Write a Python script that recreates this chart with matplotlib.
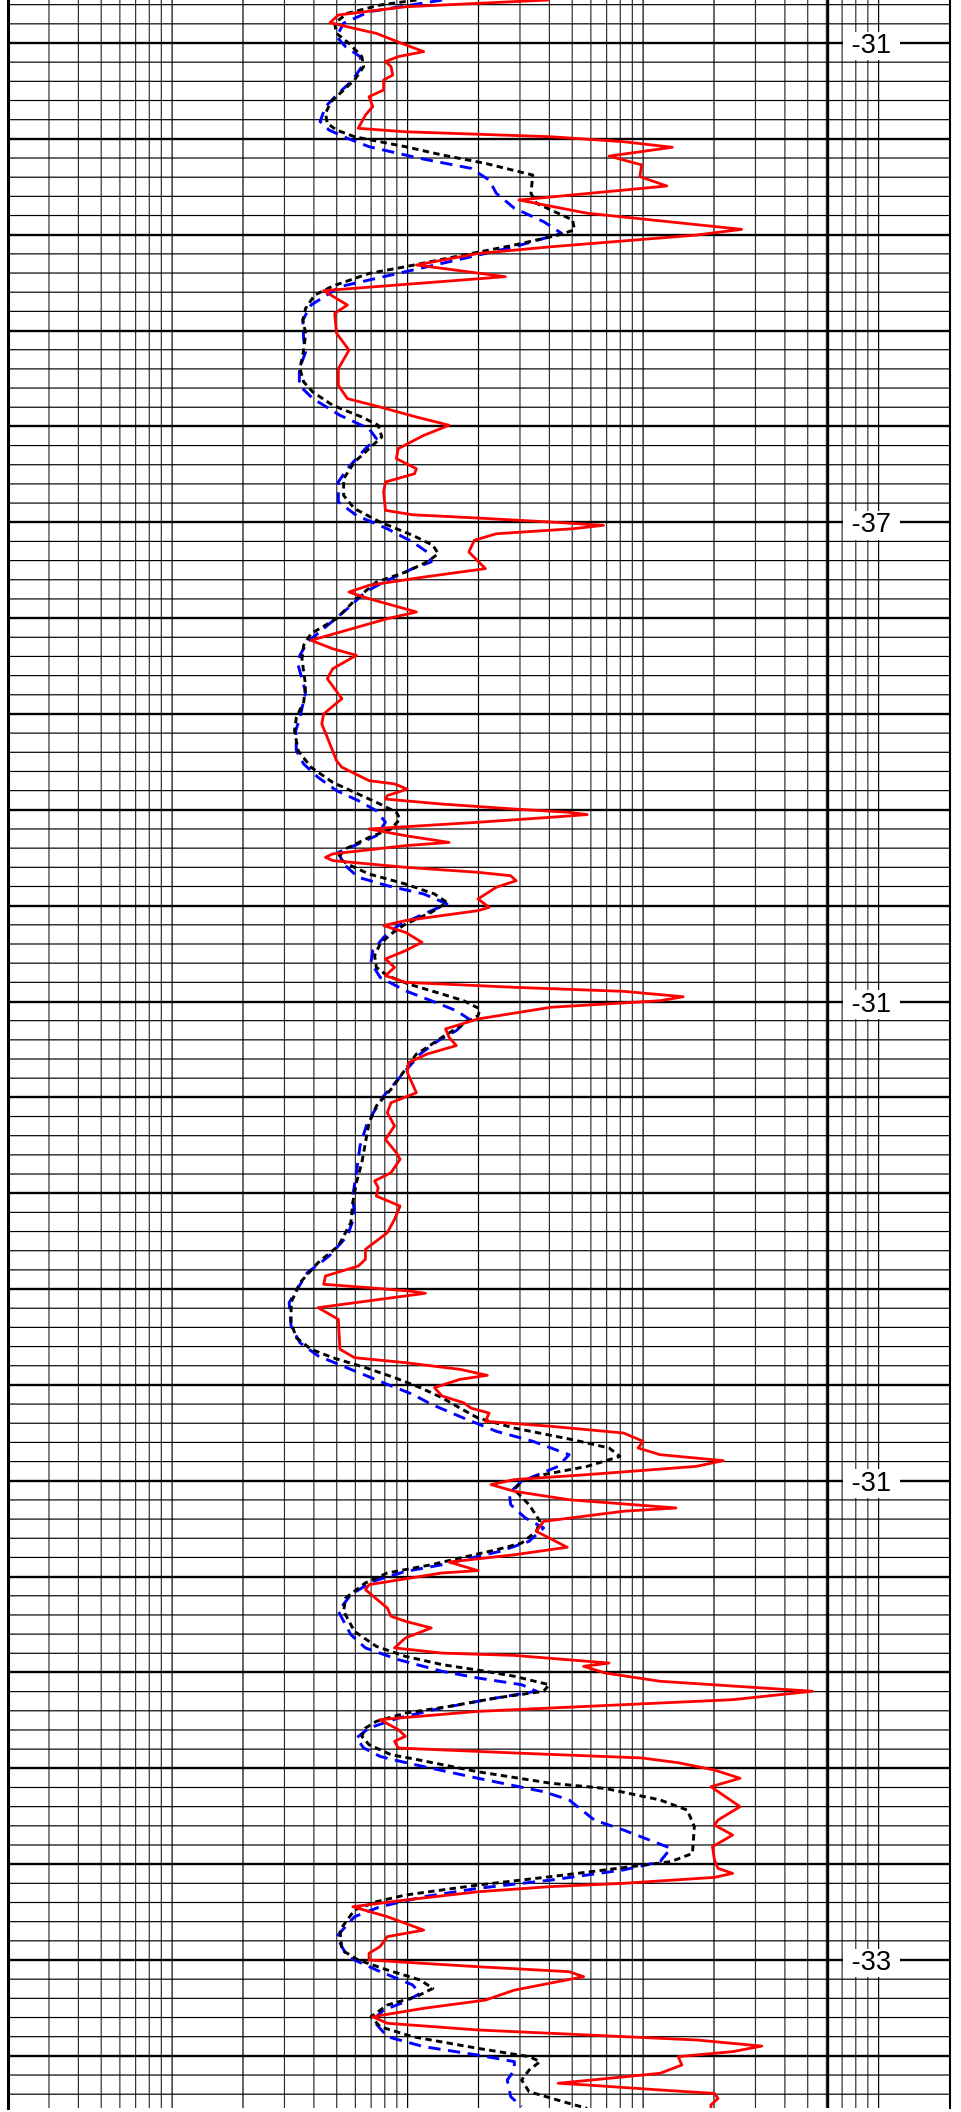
import matplotlib.pyplot as plt
from matplotlib.ticker import NullLocator

plt.rcParams['font.family'] = ['Liberation Sans', 'DejaVu Sans']

# depth (m below the first marker) and resistivity (ohm.m) picks for each curve
red_depth = [
    -2.24, -1.89, -1.46, -1.06, -0.76, -0.50, 0.02, 0.45, 0.71, 0.97, 1.23, 1.67, 1.93, 2.45, 2.80, 3.32,
    3.76, 4.45, 4.63, 4.89, 5.15, 5.44, 5.90, 6.36, 6.97, 7.46, 8.19, 8.88, 9.72, 10.02, 10.63, 10.98,
    11.58, 12.19, 12.92, 13.67, 14.10, 15.14, 16.02,
    16.99, 17.86, 18.55, 18.99, 19.51, 19.94, 20.47, 21.16, 21.68, 22.21, 22.47, 22.90, 23.42, 24.38,
    24.61, 24.78, 24.99, 25.16, 25.34, 25.60, 25.94, 26.55, 27.42, 27.86, 28.29, 28.64, 28.99, 29.68,
    30.03, 30.73, 31.16, 31.60, 31.94, 32.64, 33.16, 34.20,
    35.00, 35.52, 36.22, 37.44, 37.78, 38.48, 38.65, 38.92, 39.26, 39.44, 39.70, 39.96, 40.13, 40.25,
    40.39, 40.65, 41.00, 41.35, 41.70, 41.87, 42.30, 42.48, 42.65, 43.00, 43.26, 43.44, 43.70, 44.04,
    44.65, 45.09, 45.26, 45.78, 46.04, 46.39, 46.91, 47.35, 47.78, 48.22, 48.65, 49.00, 49.26, 49.47,
    49.75, 49.96, 50.30, 50.91, 51.43, 51.87, 52.30, 52.74,
    53.19, 53.71, 54.76, 55.28, 55.80, 56.49, 57.19, 57.89, 58.23, 58.93, 59.36, 59.71, 60.15, 60.67,
    61.36, 62.06, 62.93, 63.45, 63.80, 64.32, 64.75, 64.93, 65.10, 65.22, 65.36, 65.97, 66.58, 68.14,
    68.58, 68.84, 69.19, 69.50, 69.71, 70.14, 70.58, 70.93,
    71.21, 71.47, 71.90, 72.16, 72.51, 72.94, 73.29, 73.64, 73.95, 74.25, 74.68, 74.94, 75.20, 75.55,
    75.99, 76.21, 76.42, 76.59, 77.12, 77.64, 78.47, 78.86, 79.24, 79.69, 79.81, 80.42, 80.68, 81.64,
    82.07, 82.33, 82.68, 83.20, 83.72, 83.99, 84.11, 84.51, 84.68, 85.03, 85.46, 85.98, 86.42, 86.77,
    87.03, 87.46, 87.98, 88.33, 88.59, 88.94, 89.20, 89.46,
    89.71, 90.09, 90.52, 90.96, 92.00, 92.70, 92.96, 93.48, 94.09, 94.78, 95.22, 95.48, 95.69, 96.00,
    96.17, 96.44, 96.87, 97.22, 97.74, 98.44, 98.78, 99.30, 99.65, 100.00, 100.35, 100.61, 100.87,
    101.57, 102.09, 102.52, 102.96, 103.30, 103.65, 103.91, 104.17, 104.49, 104.78, 105.04, 105.48,
    105.91, 106.43, 106.52, 106.78, 106.96, 107.22, 107.56, 107.82,
]
red_res = [
    39.2, 9.79, 5.08, 4.68, 5.95, 7.37, 9.45, 11.7, 9.12, 8.05, 8.50, 8.65, 7.91, 7.91, 6.86, 7.11,
    6.62, 6.17, 9.79, 40.6, 82.6, 133, 71.7, 98.6, 96.9, 126, 29.7, 57.9, 262, 168, 40.6, 19.9,
    10.9, 26.0, 4.40, 5.55, 4.90, 4.99, 5.64,
    5.08, 5.08, 5.55, 7.64, 10.9, 15.0, 11.7, 9.12, 8.96, 10.9, 10.7, 8.05, 7.91, 8.05,
    10.5, 19.9, 40.6, 67.9, 50.2, 23.8, 19.2, 18.2, 21.4, 11.7, 6.86, 5.64, 6.86, 10.9,
    8.20, 5.16, 3.89, 4.81, 6.06, 4.81, 4.56, 5.26,
    4.40, 4.32, 4.56, 4.99, 5.26, 6.86, 8.80, 9.97, 8.20, 8.05, 14.0, 28.4, 48.5, 57.9,
    40.6, 19.9, 6.86, 9.79, 15.0, 9.79, 4.81, 4.48, 4.81, 9.79, 19.9, 27.4, 28.9, 23.8,
    19.9, 22.2, 19.9, 9.79, 7.91, 9.79, 11.5, 9.79, 8.05, 8.80, 8.05, 9.79, 28.4, 82.6,
    148, 118, 40.6, 19.9, 14.5, 15.0, 16.1, 12.1,
    10.1, 9.97, 10.9, 8.50, 8.20, 8.80, 8.05, 8.96, 9.29, 8.50, 7.24, 7.50, 7.37, 9.29,
    8.80, 8.20, 6.62, 6.62, 6.17, 4.48, 4.40, 6.86, 10.1, 11.9, 9.79, 4.17, 5.08, 5.16,
    5.95, 9.79, 16.7, 21.8, 16.7, 13.0, 14.0, 17.3,
    18.6, 22.2, 21.4, 40.6, 82.6, 100, 95.2, 118, 219, 168, 57.9, 28.4, 22.6, 28.4,
    48.5, 82.6, 138, 82.6, 37.8, 35.2, 47.6, 28.4, 15.0, 19.9, 14.0, 6.86, 6.62, 8.20,
    8.50, 9.79, 12.6, 9.79, 8.80, 14.0, 28.4, 71.7, 55.9, 69.1, 118, 524, 240, 57.9,
    19.9, 7.64, 9.12, 9.79, 8.80, 9.12, 28.4, 98.6,
    141, 201, 258, 194, 258, 208, 201, 240, 197, 201, 208, 240, 201, 82.6,
    40.6, 19.9, 9.79, 5.85, 8.20, 11.7, 8.20, 7.64, 6.86, 6.86, 19.9, 48.5, 55.9,
    28.4, 21.4, 11.7, 7.11, 8.20, 19.9, 57.9, 168, 319, 240, 141, 146,
    118, 43.6, 57.9, 118, 201, 208, 194, 194,
]

black_depth = [
    -2.24, -1.98, -1.55, -1.03, -0.50, 0.02, 0.71, 1.23, 1.93, 2.54, 3.06, 3.67, 4.19, 4.54, 4.89,
    5.41, 5.84, 6.28, 6.89, 7.84, 8.36, 9.23, 9.75, 10.02, 10.54, 11.06, 11.67, 12.02, 12.68, 13.15,
    13.84, 14.45, 15.14, 16.02,
    16.99, 17.68, 18.21, 18.90, 19.51, 19.94, 20.55, 21.16, 21.86, 22.73, 23.60, 24.29, 24.99, 25.68,
    26.20, 26.64, 27.07, 27.60, 28.12, 28.99, 30.03, 30.81, 31.42, 32.12, 32.81, 33.51, 34.38,
    35.18, 35.87, 36.92, 37.78, 38.57, 39.18, 39.70, 40.13, 40.48, 41.00, 41.44, 42.04, 42.48, 42.83,
    43.35, 43.87, 44.39, 44.83, 45.35, 45.96, 46.48, 47.00, 47.61, 48.22, 48.65, 49.09, 49.61, 49.96,
    50.39, 50.74, 51.17, 51.87, 52.39, 52.74,
    53.54, 54.58, 55.45, 56.32, 57.36, 58.41, 59.45, 60.49, 61.54, 62.75, 63.62, 64.67, 65.71, 66.75,
    67.54, 68.14, 68.58, 69.10, 69.62, 70.14, 70.67, 71.10,
    71.73, 72.25, 72.86, 73.29, 73.73, 74.25, 74.68, 75.03, 75.46, 76.25, 77.12, 77.64, 78.25, 78.60,
    79.03, 79.38, 79.81, 80.33, 81.12, 81.81, 82.86, 83.64, 84.16, 84.59, 84.94, 85.20, 85.64, 85.98,
    86.33, 86.77, 87.12, 87.55, 87.90, 88.33, 88.77, 89.29, 89.50,
    90.18, 90.78, 91.05, 91.65, 92.18, 93.04, 94.44, 94.87, 95.30, 95.65, 96.09, 96.61, 96.96, 97.39,
    98.44, 99.48, 100.00, 100.52, 101.04, 101.48, 101.91, 102.35, 102.96, 103.48, 104.00, 104.61,
    105.04, 105.30, 105.74, 106.26, 106.87, 107.48, 107.74,
]
black_res = [
    10.9, 7.64, 5.55, 4.90, 4.99, 5.64, 6.39, 6.51, 5.95, 5.26, 4.73, 4.48, 4.56, 4.99, 5.95,
    9.79, 14.0, 21.4, 34.0, 33.4, 35.2, 50.2, 51.1, 43.6, 28.4, 17.3, 9.79, 6.86, 4.81, 4.03,
    3.69, 3.59, 3.69, 3.62,
    3.49, 3.62, 3.96, 4.81, 6.39, 7.50, 7.77, 6.86, 5.95, 5.35, 5.35, 5.95, 7.64, 10.5,
    12.8, 13.5, 12.1, 9.79, 7.37, 6.06, 4.99, 3.89, 3.62, 3.56, 3.62, 3.69, 3.62,
    3.37, 3.31, 3.43, 3.89, 4.81, 6.17, 7.64, 8.96, 9.29, 8.50, 6.86, 5.45, 5.08, 5.55,
    6.86, 9.79, 13.0, 14.7, 12.6, 9.79, 8.50, 7.64, 7.24, 7.37, 8.20, 10.1, 14.0, 17.3,
    20.3, 19.9, 17.3, 14.0, 12.1, 10.9,
    9.79, 8.50, 7.37, 6.86, 6.62, 6.39, 6.06, 5.85, 5.74, 5.08, 4.17, 3.49, 3.20, 3.20,
    3.37, 3.89, 4.81, 6.62, 8.80, 11.3, 14.0, 16.1,
    19.9, 28.4, 50.2, 71.7, 79.7, 57.9, 37.8, 30.5, 28.4, 32.8, 36.5, 35.2, 30.5, 23.8,
    16.7, 12.6, 8.20, 6.62, 5.45, 5.35, 5.95, 7.37, 9.79, 14.0, 21.4, 28.4, 39.9, 37.8,
    23.8, 15.0, 9.79, 7.37, 6.62, 6.39, 6.86, 8.50, 10.5,
    19.9, 40.6, 69.1, 118, 154, 165, 162, 131, 69.1, 40.6, 19.9, 9.79, 7.37, 5.95,
    5.16, 5.26, 6.17, 8.20, 11.3, 12.8, 10.9, 8.20, 6.99, 7.64, 10.5, 19.9,
    32.8, 36.5, 32.8, 30.5, 32.8, 48.5, 57.9,
]

blue_depth = [
    -2.24, -1.63, -1.03, -0.33, 0.19, 0.71, 1.23, 1.93, 2.63, 3.32, 4.10, 4.54, 4.97, 5.41, 6.02,
    6.54, 7.15, 7.84, 8.62, 9.32, 9.93, 10.63, 11.15, 11.93, 12.71, 13.67, 14.45, 15.49,
    16.12, 16.99, 17.86, 18.55, 19.42, 20.12, 20.64, 21.16, 22.20, 22.90, 23.94, 24.64, 25.34, 26.03,
    26.55, 27.07, 27.42, 28.12, 28.64, 29.51, 30.55, 31.25, 31.94, 32.46, 33.86,
    35.18, 35.87, 36.92, 37.61, 38.31, 39.00, 39.52, 40.05, 40.65, 41.35, 41.78, 42.22, 42.83, 43.52,
    43.96, 44.39, 44.91, 45.52, 46.04, 46.65, 47.35, 47.96, 48.74, 49.44, 49.96, 50.48, 50.91, 51.52,
    52.04, 52.74,
    54.06, 54.93, 56.32, 57.54, 58.93, 60.15, 61.19, 62.23, 63.28, 64.15, 65.71, 66.93, 67.80, 68.49,
    69.19, 69.97, 70.49, 71.01,
    71.73, 72.42, 72.94, 73.64, 74.25, 75.03, 75.64, 76.25, 76.94, 77.46, 78.16, 78.68, 79.38, 79.73,
    80.25, 80.94, 81.81, 83.03, 83.72, 84.33, 84.94, 85.29, 85.64, 85.98, 86.33, 86.85, 87.38, 87.90,
    88.42, 88.94, 89.38,
    89.57, 89.91, 90.52, 91.22, 91.65, 92.70, 93.22, 94.17, 94.87, 95.30, 95.83, 96.26, 96.70, 97.22,
    97.74, 98.78, 99.83, 100.52, 101.30, 101.74, 102.17, 102.61, 103.13, 104.00, 104.52, 104.96,
    105.30, 105.74, 106.26, 107.13, 107.65,
]
blue_res = [
    14.0, 6.86, 5.35, 4.99, 5.45, 6.28, 6.39, 5.85, 5.08, 4.48, 4.25, 4.64, 5.55, 6.86, 11.3,
    18.6, 22.2, 23.8, 28.4, 37.8, 45.1, 28.4, 18.6, 9.79, 5.16, 3.89, 3.59, 3.62,
    3.69, 3.47, 3.47, 3.96, 5.16, 6.86, 7.37, 6.62, 5.55, 5.08, 5.08, 6.06, 8.20, 10.5,
    12.1, 12.6, 10.5, 7.91, 6.62, 5.55, 4.40, 3.75, 3.49, 3.43, 3.69,
    3.49, 3.35, 3.37, 3.62, 4.17, 4.99, 6.17, 7.37, 8.05, 7.37, 6.17, 5.08, 5.35, 6.17,
    8.20, 11.7, 14.7, 11.3, 9.12, 7.91, 7.11, 6.99, 7.64, 9.79, 12.6, 16.1, 18.2, 16.1,
    13.5, 11.3,
    9.12, 7.91, 6.74, 6.28, 6.06, 5.85, 5.95, 5.55, 4.64, 3.75, 3.14, 3.20, 3.49, 4.17,
    5.74, 8.20, 10.5, 12.6,
    17.3, 23.8, 34.0, 48.5, 43.6, 30.5, 27.0, 27.4, 31.6, 37.8, 32.8, 24.7, 14.0, 9.79,
    7.11, 5.74, 5.08, 5.74, 6.62, 9.12, 14.0, 19.9, 30.5, 35.2, 23.8, 14.0, 9.12, 6.86,
    6.06, 6.51, 7.64,
    8.80, 11.7, 19.9, 37.8, 48.5, 62.1, 82.6, 131, 118, 82.6, 40.6, 19.9, 11.7, 7.64,
    5.95, 4.99, 5.55, 7.37, 10.5, 11.3, 9.79, 7.91, 7.11, 8.20, 11.7, 19.9,
    28.4, 28.4, 26.5, 27.4, 30.5,
]

marker_depths = [0, 25, 50, 75, 100]
marker_labels = ['-31', '-37', '-31', '-31', '-33']
edge_res = 610  # heavy line splitting off the depth column

fig = plt.figure(figsize=(9.61, 21.12), dpi=100)
ax = fig.add_axes([7.5 / 961, 4 / 2112, 942 / 961, 2108 / 2112])
ax.set_xscale('log')
ax.set_xlim(0.2, 2000)
ax.set_ylim(107.72, -2.243)

# log grid, 0.2 - 2000
for dec in [0.1, 1, 10, 100, 1000]:
    for m in range(1, 10):
        v = m * dec
        if 0.2 < v < 2000:
            ax.axvline(v, color='black' if m in (1, 2) else '#2e2e2e', lw=0.85, snap=False, zorder=1)

# depth grid: 1 m minor, 5 m major
for d in range(-2, 108):
    if d % 5 == 0:
        ax.axhline(d, color='black', lw=1.7, zorder=1.5)
    else:
        ax.axhline(d, color='black', lw=0.85, snap=False, zorder=1)

ax.axvline(edge_res, color='black', lw=1.7, zorder=2)

ax.plot(blue_res, blue_depth, color='#0000ff', lw=2.1, ls=(0, (4.2, 2.6)), zorder=3)
ax.plot(black_res, black_depth, color='black', lw=2.1, ls=(0, (2.2, 1.5)), zorder=4)
ax.plot(red_res, red_depth, color='#ff0000', lw=2.0, zorder=5)

for d, lab in zip(marker_depths, marker_labels):
    ax.text(930, d, f' {lab} ', ha='center', va='center_baseline', fontsize=19.5,
            bbox=dict(boxstyle='square,pad=0.05', fc='white', ec='none'), zorder=6)

ax.spines['top'].set_visible(False)
ax.spines['bottom'].set_visible(False)
ax.spines['left'].set_linewidth(2.2)
ax.spines['right'].set_linewidth(1.5)
ax.xaxis.set_minor_locator(NullLocator())
ax.set_xticks([])
ax.set_yticks([])

fig.savefig('out.png', dpi=100)
